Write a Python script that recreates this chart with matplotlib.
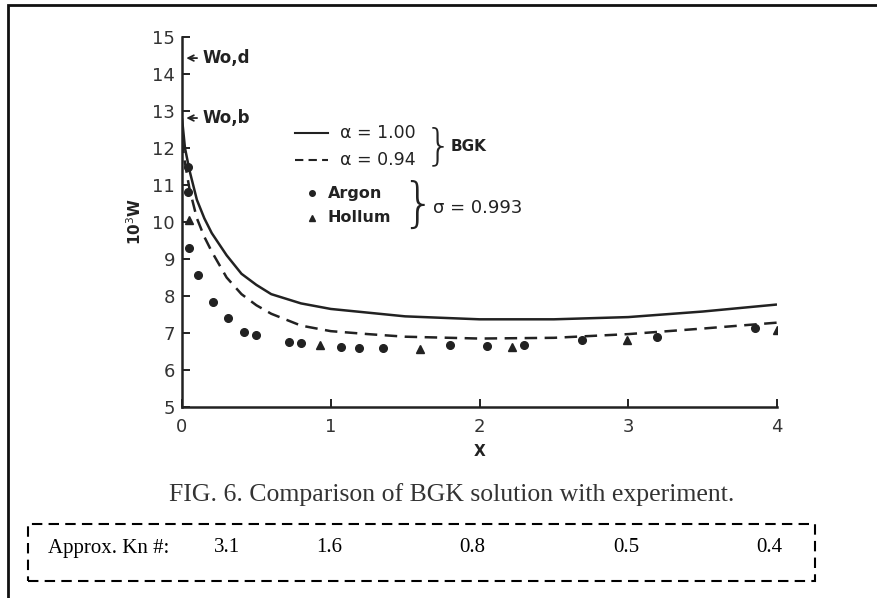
import matplotlib

matplotlib.use("Agg")
import matplotlib.pyplot as plt
from matplotlib.patches import Rectangle
from matplotlib.transforms import blended_transform_factory

INK = "#222222"

# BGK solutions
bgk_x = [0, 0.02, 0.05, 0.1, 0.15, 0.2, 0.3, 0.4, 0.5, 0.6, 0.8, 1.0, 1.25,
         1.5, 2.0, 2.5, 3.0, 3.5, 4.0]
bgk_100 = [12.8, 12.0, 11.4, 10.6, 10.1, 9.7, 9.1, 8.6, 8.3, 8.05, 7.8, 7.65,
           7.55, 7.45, 7.37, 7.37, 7.43, 7.58, 7.77]
bgk_094 = [12.2, 11.6, 10.9, 10.1, 9.6, 9.2, 8.5, 8.05, 7.75, 7.52, 7.2, 7.05,
           6.97, 6.9, 6.85, 6.87, 6.97, 7.12, 7.28]

# experiment
argon_x = [0.04, 0.04, 0.05, 0.11, 0.21, 0.31, 0.42, 0.5, 0.72, 0.8, 1.07,
           1.19, 1.35, 1.8, 2.05, 2.3, 2.69, 3.19, 3.85]
argon_w = [11.5, 10.8, 9.3, 8.57, 7.84, 7.4, 7.03, 6.95, 6.76, 6.73, 6.62,
           6.59, 6.59, 6.68, 6.65, 6.68, 6.81, 6.89, 7.13]
helium_x = [0.05, 0.93, 1.6, 2.22, 2.99, 4.0]
helium_w = [10.05, 6.68, 6.57, 6.62, 6.81, 7.08]

# free-molecular limits marked on the axis
w_limits = [14.43, 12.81]
w_limit_labels = ["Wo,d", "Wo,b"]

# Knudsen numbers printed under the figure
kn_x = [0.30, 0.99, 1.95, 2.99, 3.95]
kn_labels = ["3.1", "1.6", "0.8", "0.5", "0.4"]

fig = plt.figure(figsize=(8.78, 5.98), dpi=100)
ax = fig.add_axes([182 / 878, 1 - 407 / 598, 595 / 878, 370 / 598])

ax.plot(bgk_x, bgk_100, color=INK, linewidth=1.8, solid_capstyle="butt")
ax.plot(bgk_x, bgk_094, color=INK, linewidth=1.8, dashes=(5, 3))
ax.plot(argon_x, argon_w, "o", color=INK, markersize=5.5, linestyle="none")
ax.plot(helium_x, helium_w, "^", color=INK, markersize=5.5, linestyle="none")

ax.set_xlim(0, 4)
ax.set_ylim(5, 15)
ax.set_xticks([0, 1, 2, 3, 4])
ax.set_yticks(range(5, 16))
for side in ("top", "right"):
    ax.spines[side].set_visible(False)
for side in ("left", "bottom"):
    ax.spines[side].set_linewidth(1.8)
    ax.spines[side].set_color(INK)
ax.tick_params(direction="in", length=6, width=1.4, colors=INK,
               labelsize=13, labelcolor="#333333")
ax.tick_params(axis="x", pad=8)
ax.tick_params(axis="y", pad=5)
ax.set_xlabel("X", fontsize=11, fontweight="bold", color=INK, labelpad=6)
ax.set_ylabel("10$^3$W", fontsize=11, fontweight="bold", color=INK, labelpad=6)

for w, lab in zip(w_limits, w_limit_labels):
    ax.annotate("", xy=(0.01, w), xytext=(0.12, w),
                arrowprops=dict(arrowstyle="->", color=INK, lw=1.3))
    ax.text(0.14, w, lab, fontsize=12, fontweight="bold", color=INK,
            ha="left", va="center")

# hand-drawn style key
t = ax.transAxes
ax.plot([0.19, 0.245], [0.74, 0.74], color=INK, lw=1.5, transform=t)
ax.plot([0.19, 0.245], [0.668, 0.668], color=INK, lw=1.5, dashes=(4, 2.5),
        transform=t)
ax.text(0.266, 0.74, "α = 1.00", transform=t, fontsize=12.5, color=INK,
        va="center")
ax.text(0.266, 0.668, "α = 0.94", transform=t, fontsize=12.5, color=INK,
        va="center")
ax.text(0.408, 0.703, "}", transform=t, fontsize=31, color=INK,
        va="center", ha="left", fontweight="light")
ax.text(0.452, 0.703, "BGK", transform=t, fontsize=11, fontweight="bold",
        color=INK, va="center")
ax.plot([0.218], [0.578], "o", color=INK, markersize=4, transform=t)
ax.plot([0.218], [0.511], "^", color=INK, markersize=4, transform=t)
ax.text(0.245, 0.578, "Argon", transform=t, fontsize=11.5, fontweight="bold",
        color=INK, va="center")
ax.text(0.245, 0.511, "Hollum", transform=t, fontsize=11.5, fontweight="bold",
        color=INK, va="center")
ax.text(0.368, 0.544, "}", transform=t, fontsize=38, color=INK,
        va="center", ha="left", fontweight="light")
ax.text(0.422, 0.538, "σ = 0.993", transform=t, fontsize=13, color=INK,
        va="center")

fig.text(452 / 878, 1 - 495 / 598,
         "FIG. 6. Comparison of BGK solution with experiment.",
         family="Liberation Serif", fontsize=18.5, color="#333333",
         ha="center", va="center")

# Knudsen-number strip
fig.patches.append(Rectangle((28 / 878, 1 - 581 / 598), 787 / 878, 57 / 598,
                             transform=fig.transFigure, fill=False,
                             edgecolor="black", linewidth=1.5,
                             linestyle=(0, (5, 3))))
fig.text(48 / 878, 1 - 548 / 598, "Approx. Kn #:", family="Liberation Serif",
         fontsize=15, ha="left", va="center")
bt = blended_transform_factory(ax.transData, fig.transFigure)
for x, lab in zip(kn_x, kn_labels):
    fig.text(x, 1 - 548 / 598, lab, transform=bt, family="Liberation Serif",
             fontsize=15, ha="center", va="center")

# outer frame (runs off the right and bottom edges)
fig.patches.append(Rectangle((8 / 878, -0.05), 1.2, 1 - 5 / 598 + 0.05,
                             transform=fig.transFigure, fill=False,
                             edgecolor="#111111", linewidth=2))

fig.savefig("out.png", dpi=100, facecolor="white")
